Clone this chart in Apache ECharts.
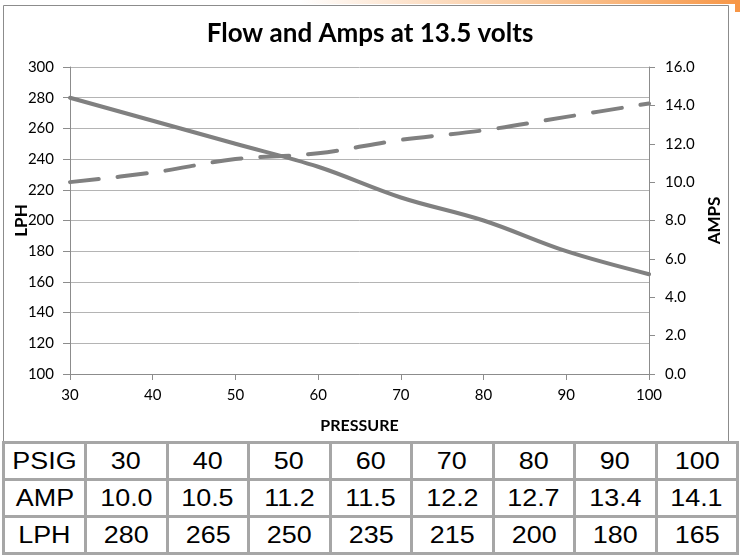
<!DOCTYPE html>
<html>
<head>
<meta charset="utf-8">
<script src="https://cdn.jsdelivr.net/npm/echarts@6/dist/echarts.min.js"></script>
<style>
  html, body { margin: 0; padding: 0; background: #fff; }
  #wrap { position: relative; width: 740px; height: 556px; overflow: hidden; }
  #chart { position: absolute; left: 0; top: 0; width: 740px; height: 556px; }
  #tbl { position: absolute; left: 2px; top: 441px; border-collapse: collapse; table-layout: fixed;
         font-family: "Liberation Sans", Arial, sans-serif; font-size: 23px; color: #000; background: #fff; }
  #tbl td { border: 3px solid #a6a6a6; height: 34px; padding: 0; text-align: center; vertical-align: middle; line-height: 34px; }
  #tbl td span { display: inline-block; transform: scaleX(1.17); }
</style>
</head>
<body>
<div id="wrap">
  <div id="chart"></div>
  <table id="tbl"></table>
</div>
<script>
const pressure = [30, 40, 50, 60, 70, 80, 90, 100];
const lph = [280, 265, 250, 235, 215, 200, 180, 165];
const amps = [10.0, 10.5, 11.2, 11.5, 12.2, 12.7, 13.4, 14.1];
const ampLabels = ['10.0', '10.5', '11.2', '11.5', '12.2', '12.7', '13.4', '14.1'];
const titleText = 'Flow and Amps at 13.5 volts';

// table
const tbl = document.getElementById('tbl');
const colW = [82, 81.5, 81.5, 81.5, 81.5, 81.5, 81.5, 81.5, 81.5];
const cg = document.createElement('colgroup');
colW.forEach(w => { const c = document.createElement('col'); c.style.width = w + 'px'; cg.appendChild(c); });
tbl.appendChild(cg);
tbl.style.width = colW.reduce((a, b) => a + b, 0) + 'px';
[['PSIG', pressure.map(String)], ['AMP', ampLabels], ['LPH', lph.map(String)]].forEach(([h, vals]) => {
  const tr = document.createElement('tr');
  [h].concat(vals).forEach(v => {
    const td = document.createElement('td');
    const sp = document.createElement('span');
    sp.textContent = v; td.appendChild(sp); tr.appendChild(td);
  });
  tbl.appendChild(tr);
});

const chart = echarts.init(document.getElementById('chart'), null, { renderer: 'canvas' });
const font = 'Lato, "Open Sans", sans-serif';
const axisGrey = '#8c8c8c';
chart.setOption({
  animation: false,
  backgroundColor: '#fff',
  title: {
    text: titleText, left: 'center', top: 16,
    textStyle: { fontFamily: font, fontWeight: 'bold', fontSize: 26, color: '#000' }
  },
  graphic: [
    { type: 'rect', z: -1, shape: { x: 3.5, y: 5.5, width: 725, height: 437 },
      style: { fill: 'none', stroke: '#8c8c8c', lineWidth: 1 } },
    { type: 'rect', shape: { x: 300, y: 0, width: 440, height: 4 },
      style: { fill: new echarts.graphic.LinearGradient(0, 0, 1, 0, [
        { offset: 0, color: 'rgba(247,150,70,0)' }, { offset: 0.5, color: 'rgba(247,170,100,0.6)' }, { offset: 1, color: '#f79646' }]) } },
    { type: 'rect', shape: { x: 735, y: 0, width: 5, height: 12 }, style: { fill: '#f79646' } }
  ],
  grid: { left: 70, right: 91, top: 67, bottom: 182, containLabel: false },
  xAxis: {
    type: 'value', min: 30, max: 100, interval: 10,
    name: 'PRESSURE', nameLocation: 'middle', nameGap: 44, nameMoveOverlap: false,
    nameTextStyle: { fontFamily: font, fontWeight: 'bold', fontSize: 16, color: '#000' },
    axisLine: { lineStyle: { color: axisGrey } },
    axisTick: { show: true, length: 6, lineStyle: { color: axisGrey } },
    axisLabel: { fontFamily: font, fontSize: 15, color: '#000', margin: 14 },
    splitLine: { show: false }
  },
  yAxis: [
    {
      type: 'value', min: 100, max: 300, interval: 20, position: 'left',
      name: 'LPH', nameLocation: 'middle', nameGap: 40, nameRotate: 90, nameMoveOverlap: false,
      nameTextStyle: { fontFamily: font, fontWeight: 'bold', fontSize: 17, color: '#000' },
      axisLine: { show: true, lineStyle: { color: axisGrey } },
      axisTick: { show: true, length: 7, lineStyle: { color: axisGrey } },
      axisLabel: { fontFamily: font, fontSize: 15, color: '#000', margin: 16 },
      splitLine: { show: true, lineStyle: { color: '#b4b4b4', width: 1 } }
    },
    {
      type: 'value', min: 0, max: 16, interval: 2, position: 'right',
      name: 'AMPS', nameLocation: 'middle', nameGap: 57, nameRotate: 90, nameMoveOverlap: false,
      nameTextStyle: { fontFamily: font, fontWeight: 'bold', fontSize: 17, color: '#000' },
      axisLine: { show: true, lineStyle: { color: axisGrey } },
      axisTick: { show: true, length: 6, lineStyle: { color: axisGrey } },
      axisLabel: { fontFamily: font, fontSize: 15, color: '#000', margin: 16, formatter: v => v.toFixed(1) },
      splitLine: { show: false }
    }
  ],
  series: [
    {
      name: 'LPH', type: 'line', yAxisIndex: 0, smooth: 0.35, symbol: 'none',
      data: pressure.map((p, i) => [p, lph[i]]),
      lineStyle: { color: '#808080', width: 4, cap: 'round' }
    },
    {
      name: 'AMPS', type: 'line', yAxisIndex: 1, smooth: 0.35, symbol: 'none',
      data: pressure.map((p, i) => [p, amps[i]]),
      lineStyle: { color: '#808080', width: 4, type: [29, 19], cap: 'round' }
    }
  ]
});
</script>
</body>
</html>
